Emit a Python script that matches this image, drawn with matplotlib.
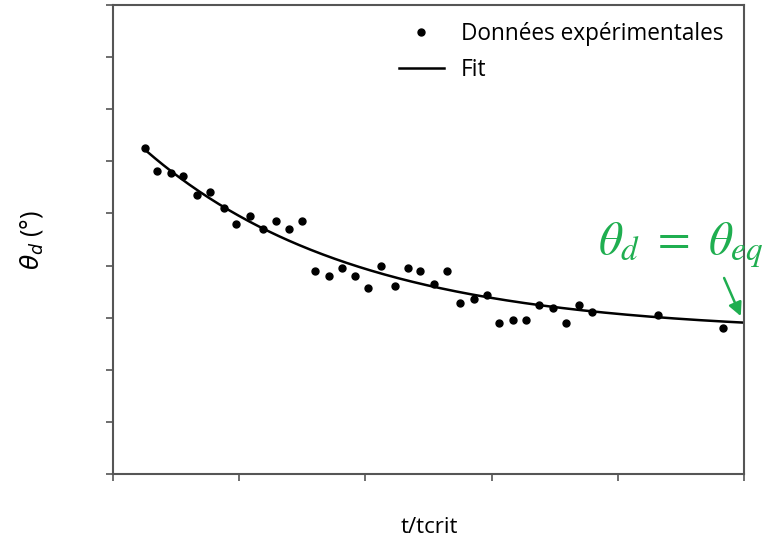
import numpy as np
import matplotlib
matplotlib.use("Agg")
import matplotlib.pyplot as plt

plt.rcParams['font.family'] = ['Open Sans', 'DejaVu Sans']
plt.rcParams['mathtext.fontset'] = 'dejavusans'

t_exp = [0.254, 0.349, 0.46, 0.555, 0.669, 0.771, 0.879, 0.977, 1.086, 1.187,
         1.288, 1.397, 1.498, 1.604, 1.712, 1.814, 1.915, 2.024, 2.125, 2.234,
         2.335, 2.437, 2.548, 2.65, 2.752, 2.86, 2.962, 3.063, 3.171, 3.273,
         3.375, 3.487, 3.588, 3.697, 3.798, 4.323, 4.838]
theta_exp = [6.26, 5.82, 5.78, 5.72, 5.36, 5.41, 5.10, 4.80, 4.96, 4.70,
             4.86, 4.70, 4.86, 3.90, 3.80, 3.95, 3.80, 3.56, 3.99, 3.61,
             3.95, 3.90, 3.65, 3.90, 3.29, 3.35, 3.44, 2.89, 2.95, 2.95,
             3.24, 3.19, 2.89, 3.24, 3.10, 3.05, 2.81]

# exponential fit parameters: theta = c + A * exp(-t / tau)
fit_A = 4.10
fit_tau = 1.668
fit_c = 2.70
fit_range = (0.27, 5.0)

green = '#1fae50'

fig = plt.figure(figsize=(7.7, 5.38), dpi=100)
ax = fig.add_axes([0.1468, 0.119, 0.8192, 0.8717])

t_fit = np.linspace(fit_range[0], fit_range[1], 300)
ax.plot(t_exp, theta_exp, 'o', color='black', markersize=5,
        label='Données expérimentales')
ax.plot(t_fit, fit_c + fit_A * np.exp(-t_fit / fit_tau), color='black',
        linewidth=1.8, label='Fit')

ax.set_xlim(0, 5)
ax.set_ylim(0, 9)
ax.set_xticks(range(0, 6))
ax.set_yticks(range(0, 10))
ax.tick_params(labelbottom=False, labelleft=False, length=5, width=1.2,
               color='#555555')
for s in ax.spines.values():
    s.set_color('#555555')
    s.set_linewidth(1.5)

ax.set_xlabel('t/tcrit', fontsize=16, va='baseline')
ax.xaxis.set_label_coords(0.501, -0.126)
ax.set_ylabel(r'$\theta_d$ (°)', fontsize=18, va='center')
ax.yaxis.set_label_coords(-0.130, 0.499)

ax.legend(loc='upper right', bbox_to_anchor=(0.993, 0.997), frameon=False,
          fontsize=16.3, handlelength=2.0, handletextpad=0.75,
          labelspacing=0.5, borderaxespad=0.3)

# green annotation, placed in figure fractions
ax.text(0.7766, 0.527, r'$\theta_d\ =\ \theta_{eq}$', transform=fig.transFigure,
        color=green, fontsize=34, math_fontfamily='stix', clip_on=False,
        va='baseline')
ax.annotate('', xy=(4.985, 2.98), xytext=(4.835, 3.81),
            arrowprops=dict(arrowstyle='-|>', color=green, lw=1.8,
                            mutation_scale=20))

fig.savefig('out.png', dpi=100)
